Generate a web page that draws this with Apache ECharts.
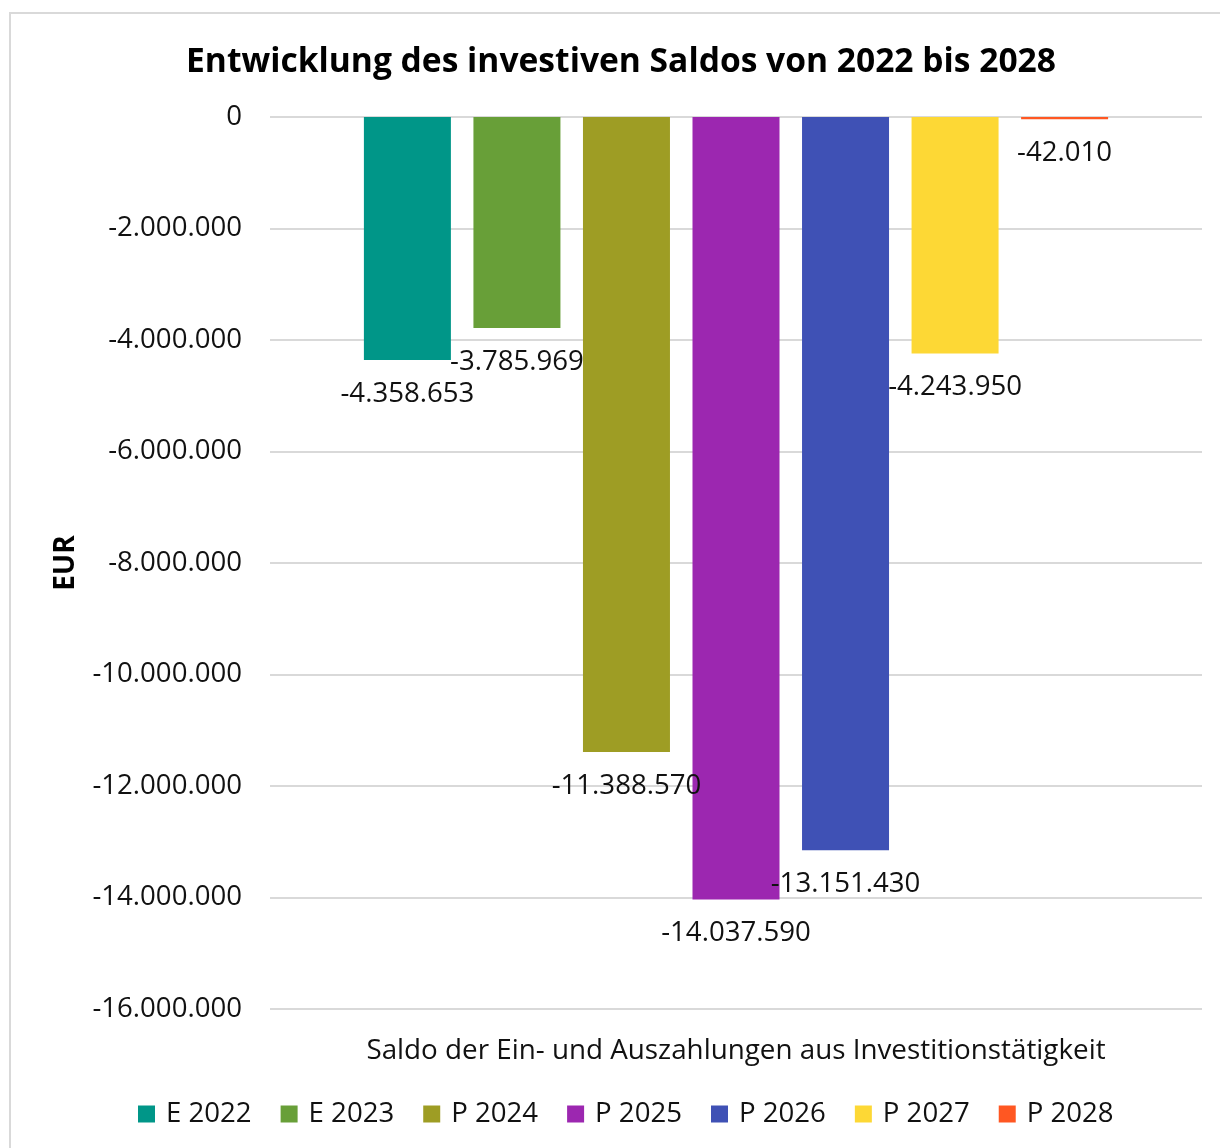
<!DOCTYPE html>
<html>
<head>
<meta charset="utf-8">
<script src="https://cdn.jsdelivr.net/npm/echarts@6/dist/echarts.min.js"></script>
<style>
html,body{margin:0;padding:0;background:#fff;}
#chart{width:1220px;height:1148px;}
</style>
</head>
<body>
<div id="chart"></div>
<script>
const titleText = 'Entwicklung des investiven Saldos von 2022 bis 2028';
const categories = ['Saldo der Ein- und Auszahlungen aus Investitionstätigkeit'];
const seriesNames = ['E 2022', 'E 2023', 'P 2024', 'P 2025', 'P 2026', 'P 2027', 'P 2028'];
const seriesValues = [-4358653, -3785969, -11388570, -14037590, -13151430, -4243950, -42010];
const seriesColors = ['#009688', '#689f38', '#9e9d24', '#9c27b0', '#3f51b5', '#fdd835', '#ff5722'];
const yMin = -16000000, yMax = 0, yInterval = 2000000;

const FONT = "'Open Sans', 'Noto Sans', sans-serif";
function fmt(v) {
  const neg = v < 0;
  const s = Math.round(Math.abs(v)).toString().replace(/\B(?=(\d{3})+(?!\d))/g, '.');
  return (neg ? '-' : '') + s;
}

const chart = echarts.init(document.getElementById('chart'), null, {renderer: 'canvas'});
const series = seriesNames.map((name, i) => ({
  name: name,
  type: 'bar',
  data: [seriesValues[i]],
  barWidth: 87,
  barGap: '25.9%',
  itemStyle: {color: seriesColors[i]},
  label: {
    show: true,
    position: 'bottom',
    distance: 20,
    formatter: p => fmt(p.value),
    color: '#111',
    fontSize: 27.6,
    fontFamily: FONT
  }
}));

chart.setOption({
  backgroundColor: '#ffffff',
  animation: false,
  title: {
    text: titleText,
    left: 616,
    top: 40,
    textAlign: 'center',
    textStyle: {fontSize: 33.6, fontWeight: 'bold', color: '#000', fontFamily: FONT}
  },
  graphic: [{
    type: 'rect',
    shape: {x: 10, y: 13, width: 1230, height: 1160},
    style: {fill: 'none', stroke: '#d9d9d9', lineWidth: 2},
    silent: true
  }],
  grid: {left: 270, right: 18, top: 117, bottom: 139},
  legend: {
    data: seriesNames,
    left: 138,
    top: 1100,
    padding: 0,
    itemWidth: 17,
    itemHeight: 17,
    itemGap: 29,
    icon: 'rect',
    textStyle: {fontSize: 27.6, color: '#111', fontFamily: FONT, padding: [0, 0, 0, 6]}
  },
  xAxis: {
    type: 'category',
    data: categories,
    position: 'bottom',
    axisLine: {show: false, onZero: false},
    axisTick: {show: false},
    axisLabel: {margin: 28, fontSize: 27.8, color: '#111', fontFamily: FONT},
    splitLine: {show: false}
  },
  yAxis: {
    type: 'value',
    min: yMin,
    max: yMax,
    interval: yInterval,
    name: 'EUR',
    nameLocation: 'middle',
    nameGap: 190,
    nameRotate: 90,
    nameTextStyle: {fontSize: 28, fontWeight: 'bold', color: '#000', fontFamily: FONT},
    axisLine: {show: false},
    axisTick: {show: false},
    axisLabel: {margin: 28, fontSize: 27.6, color: '#111', fontFamily: FONT, formatter: v => fmt(v)},
    splitLine: {lineStyle: {color: '#d9d9d9', width: 2}}
  },
  series: series
});
</script>
</body>
</html>
